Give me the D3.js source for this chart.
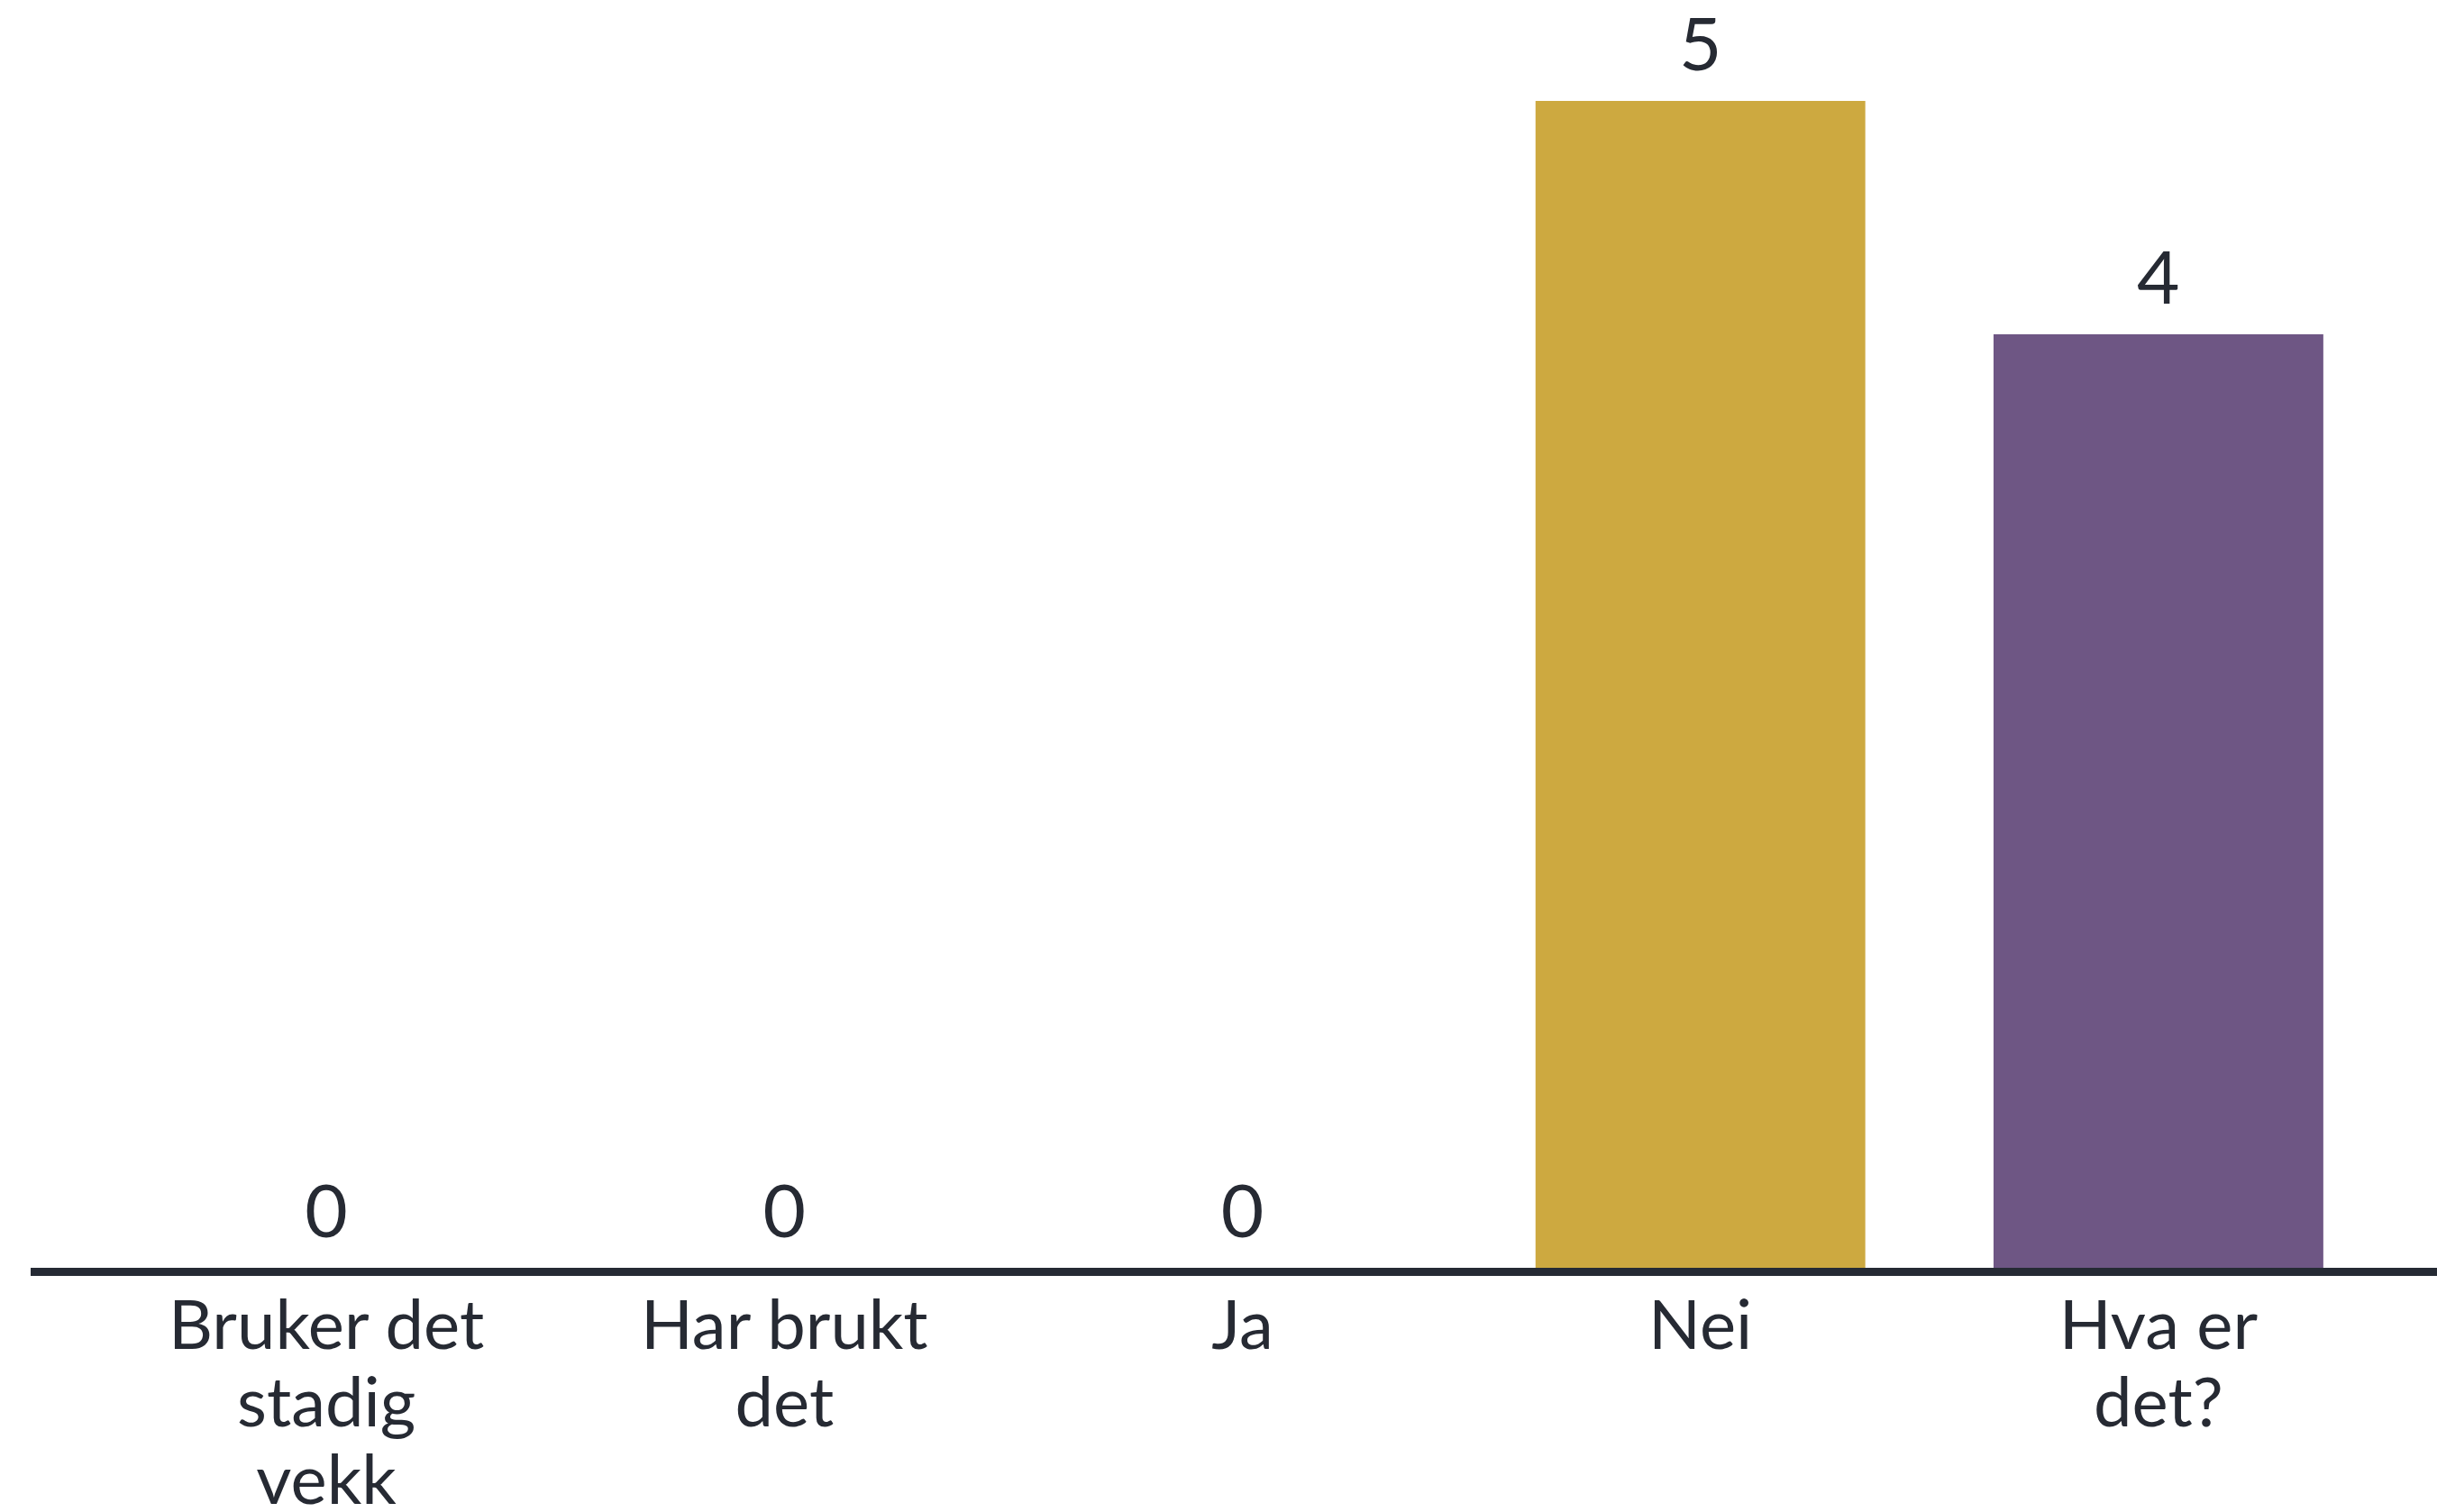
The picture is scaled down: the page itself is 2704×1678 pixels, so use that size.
<!DOCTYPE html>
<html>
<head>
<meta charset="utf-8">
<script src="https://cdn.jsdelivr.net/npm/d3@7"></script>
<style>
  html, body { margin: 0; padding: 0; background: #ffffff; }
  svg { display: block; }
  text { font-family: "Lato", "Inter", sans-serif; fill: #262a33; }
</style>
</head>
<body>
<div id="chart"></div>
<script>
// data
const categories = ["Bruker det stadig vekk", "Har brukt det", "Ja", "Nei", "Hva er det?"]
const values = [0, 0, 0, 5, 4]
const tickLabels = [
  ["Bruker det", "stadig", "vekk"],
  ["Har brukt", "det"],
  ["Ja"],
  ["Nei"],
  ["Hva er", "det?"]
]
const colors = ["#cda940", "#cda940", "#cda940", "#cda940", "#6e5684"]

const W = 2704, H = 1678
const baseY = 1407

let data = categories.map(function(c, i) {
  return {cat: c, value: values[i], lines: tickLabels[i], color: colors[i]}
})

let svg = d3.select("#chart").append("svg")
  .attr("width", W)
  .attr("height", H)

// SCALES
let xScale = d3.scaleBand()
  .domain(categories)
  .range([108, 2649])
  .paddingInner(0.28)
  .paddingOuter(0.14)

let yScale = d3.scaleLinear()
  .domain([0, 5])
  .range([baseY, 112])

// bars
svg.selectAll(".bar")
  .data(data)
  .enter().append("rect")
  .attr("class", "bar")
  .attr("x", function(d) { return xScale(d.cat) })
  .attr("width", xScale.bandwidth())
  .attr("y", function(d) { return yScale(d.value) })
  .attr("height", function(d) { return yScale(0) - yScale(d.value) })
  .attr("fill", function(d) { return d.color })

// value labels
svg.selectAll(".val")
  .data(data)
  .enter().append("text")
  .attr("class", "val")
  .attr("x", function(d) { return xScale(d.cat) + xScale.bandwidth() / 2 })
  .attr("y", function(d) { return yScale(d.value) - 34 })
  .attr("text-anchor", "middle")
  .style("font-size", "82px")
  .text(function(d) { return d.value })

// x axis: thick baseline, no ticks
let xAxis = d3.axisBottom(xScale).tickSize(0).tickFormat("")
let gx = svg.append("g")
  .attr("class", "x axis")
  .attr("transform", "translate(0," + (baseY + 4.5) + ")")
  .call(xAxis)
gx.select(".domain").remove()
gx.append("line")
  .attr("x1", 34)
  .attr("x2", W)
  .attr("stroke", "#252a34")
  .attr("stroke-width", 9)

// multi-line category labels
gx.selectAll(".tick").append("text")
  .attr("text-anchor", "middle")
  .style("font-size", "76px")
  .selectAll("tspan")
  .data(function(d) { return tickLabels[categories.indexOf(d)] })
  .enter().append("tspan")
  .attr("x", 0)
  .attr("y", function(d, i) { return 85 + i * 86 })
  .text(function(d) { return d })
</script>
</body>
</html>
